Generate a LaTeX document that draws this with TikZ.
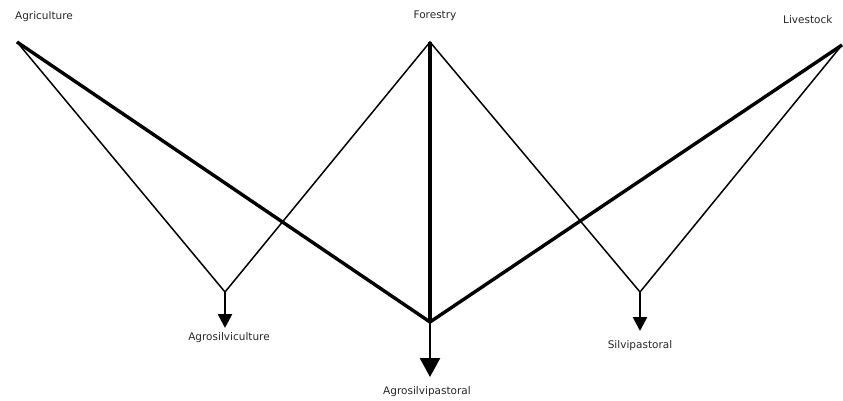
\documentclass[tikz,border=0pt]{standalone}
\usepackage{fontspec}
\setmainfont{DejaVu Sans}
\usetikzlibrary{arrows.meta,positioning}

\begin{document}
\begin{tikzpicture}[x=1pt,y=-1pt,
  lbl/.style={font=\fontsize{10.5}{11}\selectfont, inner sep=0pt, text=black!85},
  thinln/.style={line width=1.5pt},
  thickln/.style={line width=3.4pt},
  downarr/.style={line width=2.6pt,-{Triangle[length=14pt,width=14pt]}}]
 \useasboundingbox (0,0) rectangle (843,400);
 % sources
 \coordinate (agr) at (17,42);
 \coordinate (for) at (430,42);
 \coordinate (liv) at (842,45);
 % junctions
 \coordinate (j1) at (225,292);
 \coordinate (j2) at (430,322);
 \coordinate (j3) at (640,292);
 % arrow ends
 \coordinate (e1) at (225,328);
 \coordinate (e2) at (430,377);
 \coordinate (e3) at (640,331);

 % labels
 \node[lbl] (lagr) at (44,17) {Agriculture};
 \node[lbl] (lfor) at (435,16) {Forestry};
 \node[lbl, anchor=west] (lliv) at (783,20) {Livestock};
 \node[lbl] (l1) at (229,338) {Agrosilviculture};
 \node[lbl] (l2) at (427,392) {Agrosilvipastoral};
 \node[lbl] (l3) at (640,346) {Silvipastoral};

 % thin connectors
 \draw[thinln] (agr) -- (j1) -- (for) -- (j3) -- (liv);
 % thick connectors
 \foreach \s in {agr,for,liv} {
  \draw[thickln] (\s) -- (j2);
 };
 % arrows
 \draw[downarr] (j1) -- (e1);
 \draw[downarr, -{Triangle[length=19pt,width=20pt]}] (j2) -- (e2);
 \draw[downarr] (j3) -- (e3);
\end{tikzpicture}
\end{document}
